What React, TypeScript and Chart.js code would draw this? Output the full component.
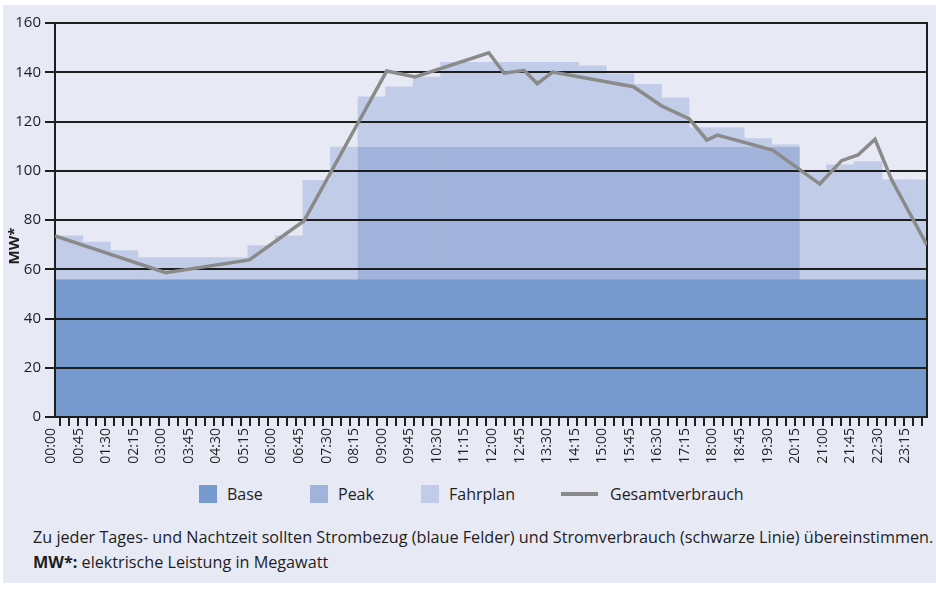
import React, { useEffect, useRef } from "react";
import { Chart, registerables } from "chart.js";

Chart.register(...registerables);

// 45-minute blocks (bar categories) – also the x tick labels
const blockStarts: string[] = [
  "00:00", "00:45", "01:30", "02:15", "03:00", "03:45", "04:30", "05:15",
  "06:00", "06:45", "07:30", "08:15", "09:00", "09:45", "10:30", "11:15",
  "12:00", "12:45", "13:30", "14:15", "15:00", "15:45", "16:30", "17:15",
  "18:00", "18:45", "19:30", "20:15", "21:00", "21:45", "22:30", "23:15",
];
// number of blocks visible across the plot (last block is cut at the right border)
const blocksVisible = 31.64;

const baseValues: (number | null)[] = [
  55.6, 55.6, 55.6, 55.6, 55.6, 55.6, 55.6, 55.6,
  55.6, 55.6, 55.6, 55.6, 55.6, 55.6, 55.6, 55.6,
  55.6, 55.6, 55.6, 55.6, 55.6, 55.6, 55.6, 55.6,
  55.6, 55.6, 55.6, 55.6, 55.6, 55.6, 55.6, 55.6,
];

const peakValues: (number | null)[] = [
  null, null, null, null, null, null, null, null,
  null, null, null, 109.4, 109.4, 109.4, 109.4, 109.4,
  109.4, 109.4, 109.4, 109.4, 109.4, 109.4, 109.4, 109.4,
  109.4, 109.4, 109.4, null, null, null, null, null,
];

const fahrplanValues: (number | null)[] = [
  73.5, 71, 67.5, 64.7, 64.7, 64.7, 64.7, 69.5,
  73.5, 96, 109.5, 130, 134, 138, 144, 144,
  144, 144, 144, 142.5, 139.3, 135, 129.5, 117.5,
  117.5, 113, 110.5, 100, 102.3, 103.7, 96.2, 96.2,
];

// Gesamtverbrauch: time of day in hours, value in MW
const lineTimes: number[] = [
  0, 3.05, 5.35, 6.85, 9.13, 9.91, 11.94, 12.36, 12.91, 13.27, 13.7, 15.92,
  16.7, 17.46, 17.94, 18.23, 19.75, 21.05, 21.65, 22.1, 22.57, 23.03, 24,
];
const lineValues: number[] = [
  73.5, 58.6, 63.8, 79.6, 140.5, 138.1, 147.9, 139.6, 140.8, 135.4, 140.1, 134.1,
  126.3, 121, 112.5, 114.5, 108.4, 94.6, 104.1, 106.4, 112.8, 96.2, 69.8,
];

const seriesNames = ["Base", "Peak", "Fahrplan", "Gesamtverbrauch"];
const seriesColors = ["#7699ce", "#a1b3da", "#c1cde8", "#8a8a8a"];

const BG = "#e7e9f5";
const INK = "#1e1e1e";
const FONT = "'Open Sans', 'Noto Sans', sans-serif";

export default function App() {
  const ref = useRef<HTMLCanvasElement | null>(null);

  useEffect(() => {
    if (!ref.current) return;

    const gridOnTop = {
      id: "gridOnTop",
      beforeDatasetDraw(chart: any, args: any) {
        if (args.index !== 3) return;
        const ctx = chart.ctx;
        ctx.save();
        chart.scales.y.drawGrid(chart.chartArea);
        chart.scales.y.drawBorder();
        chart.scales.y2.drawBorder();
        chart.scales.xt.drawGrid(chart.chartArea);
        ctx.restore();
      },
      afterDraw(chart: any) {
        const ctx = chart.ctx;
        ctx.save();
        ctx.translate(12, 241);
        ctx.rotate(-Math.PI / 2);
        ctx.font = `bold 15px ${FONT}`;
        ctx.fillStyle = INK;
        ctx.textAlign = "center";
        ctx.textBaseline = "middle";
        ctx.fillText("MW*", 0, 0);
        ctx.restore();
      },
    };

    const toBlockPoints = (vals: (number | null)[]) =>
      vals.map((v, k) => ({ x: k + 0.5, y: v }));

    const barCommon = {
      type: "bar" as const,
      xAxisID: "xb",
      yAxisID: "y",
      grouped: false,
      barPercentage: 1,
      categoryPercentage: 1,
      borderWidth: 0,
      inflateAmount: 0.5,
    };

    const chart = new Chart(ref.current, {
      type: "bar",
      data: {
        datasets: [
          { ...barCommon, label: seriesNames[0], data: toBlockPoints(baseValues), backgroundColor: seriesColors[0], order: 1 },
          { ...barCommon, label: seriesNames[1], data: toBlockPoints(peakValues), backgroundColor: seriesColors[1], order: 2 },
          { ...barCommon, label: seriesNames[2], data: toBlockPoints(fahrplanValues), backgroundColor: seriesColors[2], order: 3 },
          {
            type: "line",
            label: seriesNames[3],
            data: lineTimes.map((t, i) => ({ x: t, y: lineValues[i] })),
            xAxisID: "xt",
            yAxisID: "y",
            borderColor: seriesColors[3],
            borderWidth: 3.5,
            pointRadius: 0,
            tension: 0,
            fill: false,
            order: 0,
          } as any,
        ],
      } as any,
      plugins: [gridOnTop],
      options: {
        animation: false,
        responsive: false,
        maintainAspectRatio: false,
        layout: { padding: { top: 18, left: 0, right: 0, bottom: 0 } },
        plugins: { legend: { display: false }, tooltip: { enabled: false } },
        scales: {
          xt: {
            type: "linear",
            position: "bottom",
            weight: 0,
            min: 0,
            max: 24,
            offset: false,
            grid: {
              drawOnChartArea: false,
              drawTicks: true,
              tickLength: 9,
              color: INK,
              lineWidth: 2,
            },
            border: { display: true, color: INK, width: 2 },
            ticks: {
              display: false,
              stepSize: 0.25,
              maxTicksLimit: 200,
              autoSkip: false,
            },
            afterFit: (s: any) => {
              s.height = 10;
            },
          },
          xb: {
            type: "linear",
            position: "bottom",
            weight: 1,
            min: 0,
            max: blocksVisible,
            offset: false,
            grid: { display: false, drawTicks: false },
            border: { display: false },
            ticks: {
              stepSize: 1,
              includeBounds: false,
              autoSkip: false,
              maxRotation: 90,
              minRotation: 90,
              labelOffset: -4,
              padding: 1,
              color: INK,
              font: { family: FONT, size: 14 },
              callback: (value: any) => {
                const k = Math.round(Number(value));
                return Math.abs(Number(value) - k) < 1e-6 && k >= 0 && k < blockStarts.length ? blockStarts[k] : "";
              },
            },
            afterFit: (s: any) => {
              s.height = 43;
            },
          },
          y: {
            type: "linear",
            position: "left",
            min: 0,
            max: 160,
            grid: { color: INK, lineWidth: 2, tickLength: 10, drawTicks: true },
            border: { display: true, color: INK, width: 2 },
            ticks: {
              stepSize: 20,
              padding: 4,
              color: INK,
              font: { family: FONT, size: 15 },
            },
            afterFit: (s: any) => {
              s.width = 52;
            },
          },
          y2: {
            type: "linear",
            position: "right",
            min: 0,
            max: 160,
            grid: { display: false },
            ticks: { display: false },
            border: { display: true, color: INK, width: 2 },
            afterFit: (s: any) => {
              s.width = 9;
            },
          },
        },
      } as any,
    });

    return () => chart.destroy();
  }, []);

  const legendLeft = [199, 310, 421, 561];

  return (
    <div style={{ position: "absolute", left: 0, top: 0, width: 936, height: 589, background: "#ffffff", overflow: "hidden" }}>
      <div style={{ position: "absolute", left: 3, top: 5, width: 933, height: 578, background: BG, fontFamily: FONT, color: INK }}>
        <canvas ref={ref} width={933} height={465} style={{ position: "absolute", left: 0, top: 0, width: 933, height: 465 }} />
        {seriesNames.map((name, i) => (
          <div key={name} style={{ position: "absolute", left: legendLeft[i] - 3, top: 480, height: 18, display: "flex", alignItems: "center", fontSize: 16, whiteSpace: "nowrap" }}>
            {i < 3 ? (
              <span style={{ display: "inline-block", width: 18, height: 18, background: seriesColors[i] }} />
            ) : (
              <span style={{ display: "inline-block", width: 37, height: 4, background: seriesColors[i] }} />
            )}
            <span style={{ marginLeft: i < 3 ? 10 : 12, lineHeight: "18px" }}>{name}</span>
          </div>
        ))}
        <div style={{ position: "absolute", left: 30, top: 520, fontSize: 16.2, lineHeight: "25px", whiteSpace: "nowrap" }}>
          <div>Zu jeder Tages- und Nachtzeit sollten Strombezug (blaue Felder) und Stromverbrauch (schwarze Linie) übereinstimmen.</div>
          <div><b>MW*:</b> elektrische Leistung in Megawatt</div>
        </div>
      </div>
    </div>
  );
}
